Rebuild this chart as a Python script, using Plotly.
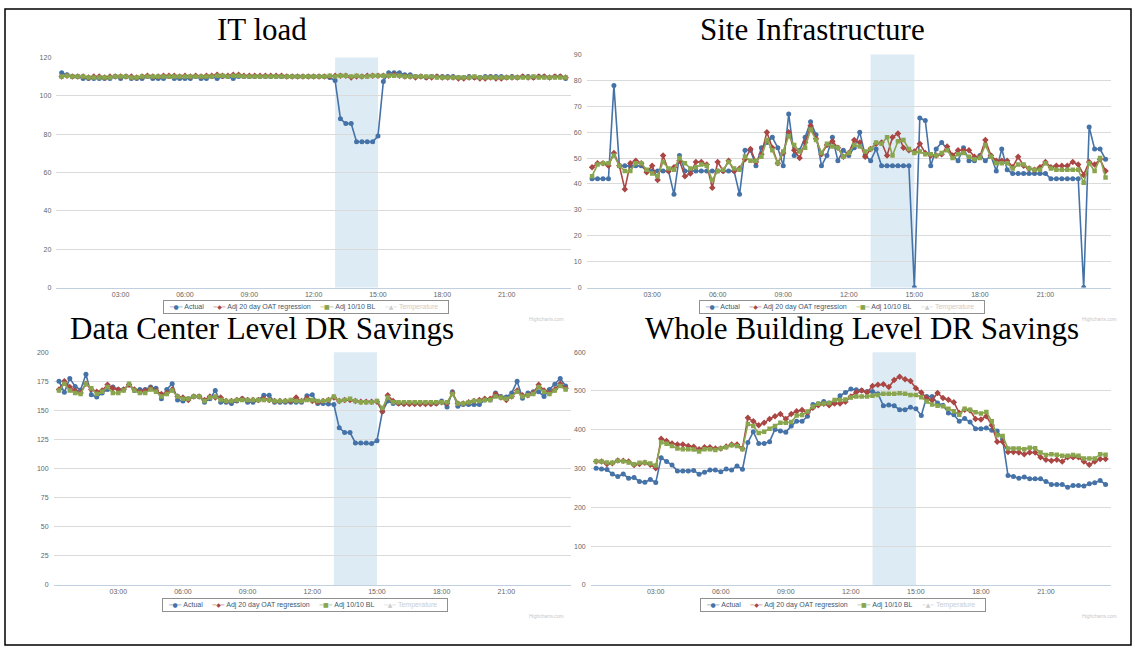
import plotly.graph_objects as go

# time axis: 15-minute readings from 00:15 to 23:45 (hours)
hours = [i / 4 for i in range(1, 96)]
tick_hours = [3, 6, 9, 12, 15, 18, 21]
tick_text = ["03:00", "06:00", "09:00", "12:00", "15:00", "18:00", "21:00"]
event_start, event_end = 13, 15

series_names = ["Actual", "Adj 20 day OAT regression", "Adj 10/10 BL", "Temperature"]

# IT load
it_actual = [
    112, 111, 110, 110, 109, 109, 109, 109, 109, 109, 110, 109,
    110, 109, 109, 109, 110, 109, 109, 109, 110, 109, 109, 109,
    109, 110, 109, 109, 110, 109, 110, 110, 109, 110, 110, 110,
    110, 110, 110, 110, 110, 110, 110, 110, 110, 110, 110, 110,
    110, 110, 109.5, 108, 88, 85.5, 85.5, 76, 76, 76, 76, 79,
    107.5, 112, 112, 112, 111, 111, 110, 110, 109.5, 110, 110, 110,
    110, 110, 109.5, 109.5, 110, 109.5, 109.5, 110, 110, 110, 110, 109.5,
    110, 109.5, 110, 110, 109.5, 110, 110, 109.5, 110, 110, 109,
]
it_oat = [
    110, 110.5, 110, 110, 110, 109.5, 110, 110, 109.5, 110, 110, 110,
    110, 110, 109.5, 110, 110.5, 110, 110, 110.5, 110.5, 110.5, 110, 110.5,
    110, 110.5, 110, 110.5, 110.5, 111, 110.5, 110.5, 111, 111, 110.5, 110.5,
    110.5, 110.5, 110.5, 110.5, 110.5, 110.5, 110, 110, 110, 110, 110, 110,
    110, 110, 110, 110.5, 110.5, 110.5, 109.5, 110, 110, 110.5, 110.5, 110.5,
    110.5, 110.5, 111, 110.5, 110, 110, 109.5, 110, 109.5, 109.5, 110, 109.5,
    109.5, 109.5, 109, 109, 109.5, 109.5, 109, 109, 109.5, 109, 109, 109.5,
    109.5, 109.5, 110, 109.5, 109.5, 110, 110, 109.5, 110, 110, 109.5,
]
it_bl = [
    110, 110.5, 110, 110, 110, 109.5, 109.5, 109.5, 109.5, 109.5, 110, 110,
    110, 109.5, 109.5, 110, 110, 110, 110, 110, 110, 110, 110, 110,
    110, 110, 110, 110, 110, 110.5, 110.5, 110, 110.5, 110.5, 110, 110,
    110, 110, 110, 110, 110, 110, 110, 110, 110, 110, 110, 110,
    110, 110, 110.5, 110, 110.5, 110.5, 110, 110.5, 110, 110, 110.5, 110.5,
    110.5, 110.5, 110.5, 110.5, 110, 110, 110, 110, 110, 110, 109.5, 109.5,
    109.5, 109.5, 109.5, 109.5, 109.5, 110, 109.5, 109.5, 109.5, 109.5, 109.5, 109.5,
    109.5, 109.5, 109.5, 109.5, 110, 109.5, 109.5, 109.5, 109.5, 109.5, 109.5,
]

# Site Infrastructure
site_actual = [
    42, 42, 42, 42, 78, 47, 47, 47, 47, 47, 45, 45,
    45, 45, 45, 36, 51, 45, 45, 45, 45, 45, 45, 45,
    45, 45, 45, 36, 53, 53, 47, 54, 56, 58, 54, 47,
    67, 51, 53, 58, 64, 59, 47, 51, 58, 49, 53, 51,
    54, 60, 51, 49, 53.5, 47, 47, 47, 47, 47, 47, 0,
    65.5, 64.5, 47, 53.5, 56, 53.5, 51, 49, 54, 49, 49, 51,
    49, 51, 45, 53.5, 45.5, 44, 44, 44, 44, 44, 44, 44,
    42, 42, 42, 42, 42, 42, 0, 62, 53.5, 53.5, 49.5,
]
site_oat = [
    46.5, 48, 48, 47, 52, 47, 38, 48, 49, 48, 44.5, 47,
    41.5, 51, 45, 46.5, 49, 43, 44, 48.5, 48.5, 47.5, 38.5, 48.5,
    45, 49, 45, 46, 49.5, 53.5, 48.5, 51.5, 60, 54, 48, 52,
    60, 53, 50, 56, 62.5, 57.5, 51.5, 55, 56.5, 54, 50.5, 52,
    57, 56, 50.5, 53.5, 55.5, 56, 51, 58, 59.5, 54, 53, 52.5,
    55.5, 52, 51, 51, 51.5, 54.5, 51, 53, 53, 53, 50.5, 50.5,
    57, 51, 49, 49, 49, 46.5, 50.5, 47, 46, 45.5, 46.5, 48.5,
    46.5, 47, 47, 47, 48.5, 47.5, 43.5, 48.5, 47.5, 49.5, 45,
]
site_bl = [
    43, 47.5, 48, 48, 51, 47, 45, 45, 48, 48, 45.5, 44,
    43, 48.5, 46, 45.5, 50, 48, 46, 46.5, 47.5, 47, 41.5, 45,
    45.5, 48.5, 46, 45.5, 50.5, 49, 49, 50.5, 57, 53, 48, 52.5,
    58.5, 55, 52.5, 54, 61, 57, 52, 55.5, 54.5, 54, 50.5, 52,
    55, 54.5, 52.5, 53.5, 56, 55.5, 58, 51, 56.5, 57, 53.5, 52,
    52.5, 51.5, 51.5, 51, 52, 53, 50, 51.5, 52, 50.5, 49.5, 50,
    55, 50.5, 48, 48, 48, 46, 47.5, 47.5, 46, 45.5, 45.5, 48,
    46, 45.5, 45.5, 45.5, 45.5, 45.5, 40.5, 48, 45, 50, 42.5,
]

# Data Center Level DR Savings
dc_actual = [
    175, 165.5, 177.5, 170.5, 167.5, 181, 163.5, 161.5, 165, 168, 170, 168,
    168, 172, 167, 168, 168, 170, 169, 160, 168, 173, 159, 158,
    160, 162, 162, 157, 160, 167, 157, 157, 156, 158, 160, 157,
    157, 159, 163, 163, 157, 157, 157, 157, 157, 157, 162.5, 163.5,
    156, 156, 155.5, 155, 135, 131, 131, 122, 122, 122, 121.5, 124,
    149, 158, 156, 156, 156, 156, 156, 156, 156, 156, 156, 158,
    153, 166, 153.5, 155, 155, 155, 155, 159, 159, 165, 162, 161.5,
    165, 175, 160.5, 165, 166, 166, 162, 168, 172.5, 177.5, 171,
]
dc_oat = [
    168, 175, 170, 167, 165, 173, 168, 166, 167, 172, 169, 168,
    168, 172, 168, 166, 167, 169, 167, 164, 165, 168, 162, 161,
    159, 162, 162, 159, 162, 161, 161, 158, 158, 159, 160, 159,
    159, 159, 160, 159, 158, 158, 158, 158, 161, 158, 160.5, 158,
    157, 158, 159, 161, 158, 159, 159, 158, 157.5, 157.5, 157.5, 157.5,
    149, 163, 158, 156, 155.5, 155.5, 155.5, 155.5, 155.5, 155.5, 156, 157,
    156, 165, 156, 156, 157, 158, 159, 160, 160, 164, 161, 159,
    162, 167, 163, 163, 165, 172, 167, 165, 168, 173, 169,
]
dc_bl = [
    167, 173, 167, 165, 164, 173, 169, 164, 166, 170, 165, 165,
    167, 173, 167, 165, 165, 168, 166, 162, 164, 167, 162, 160,
    160, 162, 162, 158, 161, 162, 159, 158, 158, 159, 159, 159,
    159, 159, 159, 159, 158, 158, 158, 159, 158, 158, 159, 159,
    158, 158, 159, 162, 158, 159, 160, 158, 157, 157, 157, 158,
    152, 161, 157, 157, 157, 157, 157, 157, 157, 157, 157, 157,
    157, 164, 156, 156, 157, 158, 158, 159, 159, 162, 161, 160,
    162, 166, 162, 163, 164, 170, 166, 164, 167, 171, 168,
]

# Whole Building Level DR Savings
wb_actual = [
    301, 299, 297.5, 286, 279.5, 286, 275, 277, 267, 265, 272, 264,
    328, 318.5, 309, 294, 294, 294, 295, 285.5, 290.5, 296.5, 296.5, 292,
    299, 296.5, 307, 298, 367, 395, 364.5, 364.5, 369.5, 401, 397, 394,
    409.5, 422, 422, 435, 465, 467, 473, 469, 469, 488, 496, 505,
    503, 501, 499, 499, 493, 462, 464, 462, 452, 452, 458, 454,
    437, 486, 486, 469, 463, 443.5, 439, 422, 429, 420, 403, 403,
    404.5, 399, 397, 375.5, 282, 279.5, 275, 278.5, 273.5, 273.5, 273.5, 267,
    259, 259, 259, 252, 256.5, 256.5, 255, 261, 263.5, 269, 259,
]
wb_oat = [
    318, 318, 312, 314, 321, 320, 318, 309, 312, 315, 310, 301,
    377, 371, 365, 362, 362, 358, 356, 350, 355, 355, 352, 352,
    357, 362, 362, 352, 431, 422, 412, 418, 428, 435, 441, 428,
    441, 448, 451, 444, 457, 463, 467, 463, 468, 468, 472, 486,
    497, 501, 496, 513, 516, 517.5, 510, 528.5, 537, 530, 526, 507,
    496, 482, 476, 495, 482, 477.5, 471, 443.5, 452, 450, 428, 426.5,
    435, 412, 369, 369, 343, 343, 341.5, 337, 341.5, 341.5, 329, 323,
    320, 323, 318.5, 329, 329, 329, 318, 310, 318, 325, 325,
]
wb_bl = [
    319, 318, 316, 315, 320, 319, 316, 311, 315, 316, 313, 308,
    368, 364, 358, 352, 350, 350, 349, 344, 350, 350, 348, 352,
    355, 360, 358, 350, 415, 410, 392, 395, 403, 410, 418, 418,
    420, 437, 438, 447, 460, 467, 468, 469, 477, 477, 478, 483,
    486, 486, 486, 488, 490, 493, 493, 493, 494.5, 493, 490, 490,
    484, 473, 465, 462, 460.5, 454, 448, 439, 454, 452, 445, 442,
    446, 422, 386, 384, 352, 352, 352, 350, 354, 352.5, 341.5, 335,
    337, 335.5, 333, 333, 335, 333, 326, 326, 326, 337, 335.5,
]

W, H = 1135, 650
COLORS = ["#4572A7", "#AA4643", "#89A54E", "#CCCCCC"]
SYMBOLS = ["circle", "diamond", "square", "triangle-up"]
GLYPHS = ["\u25cf", "\u25c6", "\u25a0", "\u25b2"]
SANS = "Liberation Sans, Arial, sans-serif"
TICK_FONT = dict(family=SANS, size=7, color="#666666")

panels = [
    dict(title="IT load", series=(it_actual, it_oat, it_bl), yrange=[0, 120], dtick=20,
         box=(56.3, 571, 54, 286.7), title_at=(262, 25.5), legend_at=(306, 306.5), credit_at=(566, 318)),
    dict(title="Site Infrastructure", series=(site_actual, site_oat, site_bl), yrange=[0, 90], dtick=10,
         box=(586.6, 1111, 51, 286.7), title_at=(813, 25.5), legend_at=(842, 306.5), credit_at=(1119, 318)),
    dict(title="Data Center Level DR Savings", series=(dc_actual, dc_oat, dc_bl), yrange=[0, 200], dtick=25,
         box=(53.6, 571, 352, 587.3), title_at=(261.5, 328), legend_at=(305, 607.5), credit_at=(566, 619)),
    dict(title="Whole Building Level DR Savings", series=(wb_actual, wb_oat, wb_bl), yrange=[0, 600], dtick=100,
         box=(590.7, 1111, 352, 587.3), title_at=(861.5, 328), legend_at=(843, 607.5), credit_at=(1119, 619)),
]


def px(x, y):
    return x / W, 1 - y / H


def legend_text():
    # compact Highcharts-style legend row; Temperature is a hidden (greyed) series
    items = []
    for j, name in enumerate(series_names):
        text_color = "#3E576F" if j < 3 else "#CCCCCC"
        symbol = (f'<span style="font-family:DejaVu Sans;font-size:6px;color:{COLORS[j]}">'
                  f"\u2500{GLYPHS[j]}\u2500</span>")
        items.append(f'{symbol}\u00a0<span style="color:{text_color}">{name}</span>')
    return "\u00a0" * 2 + ("\u00a0" * 5).join(items) + "\u00a0" * 4


fig = go.Figure()
layout = dict(
    width=W, height=H, margin=dict(l=0, r=0, t=0, b=0),
    paper_bgcolor="white", plot_bgcolor="white", showlegend=False,
    annotations=[], shapes=[],
)

for k, p in enumerate(panels, start=1):
    s = "" if k == 1 else str(k)
    for j in range(3):
        fig.add_trace(go.Scatter(
            x=hours, y=p["series"][j], name=series_names[j], mode="lines+markers",
            xaxis=f"x{s}", yaxis=f"y{s}",
            line=dict(color=COLORS[j], width=1.6),
            marker=dict(symbol=SYMBOLS[j], size=5 if j != 2 else 4.5, color=COLORS[j]),
            hoverinfo="skip",
        ))

    x0, x1, y0, y1 = p["box"]
    layout[f"xaxis{s}"] = dict(
        domain=[x0 / W, x1 / W], anchor=f"y{s}", range=[0, 24],
        tickvals=tick_hours, ticktext=tick_text, tickfont=TICK_FONT,
        showgrid=False, zeroline=False, showline=True, linecolor="#C0D0E0", linewidth=1,
        ticks="", fixedrange=True,
    )
    layout[f"yaxis{s}"] = dict(
        domain=[1 - y1 / H, 1 - y0 / H], anchor=f"x{s}", range=p["yrange"], dtick=p["dtick"],
        tickfont=TICK_FONT, showgrid=True, gridcolor="#DADADA", gridwidth=1,
        zeroline=False, showline=False, ticks="", ticklabelstandoff=4, fixedrange=True,
    )

    lx, ly = px(*p["legend_at"])
    layout["annotations"].append(dict(
        text=legend_text(), x=lx, y=ly, xref="paper", yref="paper",
        xanchor="center", yanchor="middle", showarrow=False,
        bgcolor="white", bordercolor="#909090", borderwidth=1, borderpad=2,
        font=dict(family=SANS, size=7, color="#3E576F"),
    ))

    tx, ty = px(*p["title_at"])
    layout["annotations"].append(dict(
        text=p["title"], x=tx, y=ty, xref="paper", yref="paper",
        xanchor="center", yanchor="middle", showarrow=False,
        font=dict(family="Liberation Serif, serif", size=31, color="black"),
    ))
    cx, cy = px(*p["credit_at"])
    layout["annotations"].append(dict(
        text="Highcharts.com", x=cx, y=cy, xref="paper", yref="paper",
        xanchor="right", yanchor="middle", showarrow=False,
        font=dict(family=SANS, size=5, color="#C8C8C8"),
    ))

    # demand-response event window
    layout["shapes"].append(dict(
        type="rect", xref=f"x{s}", yref=f"y{s} domain",
        x0=event_start, x1=event_end, y0=0, y1=1,
        fillcolor="#DDEBF5", line=dict(width=0), layer="below",
    ))

# outer frame
layout["shapes"].append(dict(
    type="rect", xref="paper", yref="paper",
    x0=5 / W, x1=1131 / W, y0=1 - 648 / H, y1=1 - 5 / H,
    line=dict(color="black", width=1.5), fillcolor="rgba(0,0,0,0)",
))

fig.update_layout(**layout)
fig.write_html(
    "out.html",
    config={"displayModeBar": False},
    post_script="document.body.style.margin = '0px';",
)
